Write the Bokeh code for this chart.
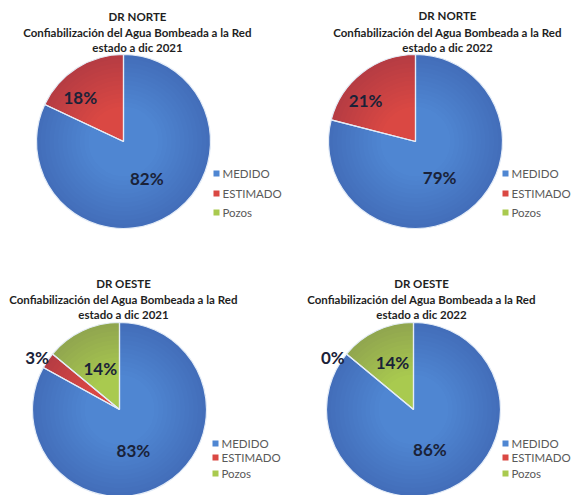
import math
from bokeh.plotting import figure
from bokeh.layouts import column, row
from bokeh.models import Range1d, ColumnDataSource
from bokeh.embed import file_html
from bokeh.resources import INLINE
from bokeh.core.properties import value

# ---------------- data ----------------
categories = ["MEDIDO", "ESTIMADO", "Pozos"]
regions = ["DR NORTE", "DR NORTE", "DR OESTE", "DR OESTE"]
subtitle = "Confiabilización del Agua Bombeada a la Red"
years = ["estado a dic 2021", "estado a dic 2022", "estado a dic 2021", "estado a dic 2022"]
norte_2021 = [82, 18, 0]
norte_2022 = [79, 21, 0]
oeste_2021 = [83, 3, 14]
oeste_2022 = [86, 0, 14]
show_label = [[True, True, False], [True, True, False], [True, True, True], [True, True, True]]

# ---------------- styles / layout ----------------
colors = ["#4F86D2", "#DA4843", "#A9CA4F"]
FONT = "Lato"
panels = [
    dict(vals=norte_2021, xr=(0, 290), yr=(0, 248), c=(123, 141), r=87, tx=137, tys=(16, 32, 47),
         lx=216, lys=(173, 193, 212), lab=[(0.50, 0), (0.71, 12), None]),
    dict(vals=norte_2022, xr=(290, 581), yr=(0, 248), c=(415, 141), r=87, tx=447, tys=(15, 32, 47),
         lx=505, lys=(173, 193, 212), lab=[(0.50, -4), (0.74, 13), None]),
    dict(vals=oeste_2021, xr=(0, 290), yr=(248, 495), c=(119, 409), r=87, tx=123, tys=(283, 299, 314),
         lx=215, lys=(443, 457, 473), lab=[(0.50, -12), (1.12, 2), (0.52, 0)]),
    dict(vals=oeste_2022, xr=(290, 581), yr=(248, 495), c=(413, 409), r=87, tx=421, tys=(283, 299, 314),
         lx=505, lys=(443, 457, 473), lab=[(0.50, -3), (1.10, 7), (0.59, -1)]),
]


def make_panel(i, cfg):
    x0, x1 = cfg["xr"]
    y0, y1 = cfg["yr"]
    p = figure(width=x1 - x0, height=y1 - y0, x_range=Range1d(x0, x1), y_range=Range1d(-y1, -y0),
               output_backend="svg", toolbar_location=None, x_axis_location=None, y_axis_location=None,
               min_border=0, outline_line_color=None, background_fill_color="white",
               border_fill_color="white")
    p.xgrid.visible = False
    p.ygrid.visible = False
    cx, cy = cfg["c"][0], -cfg["c"][1]
    r = cfg["r"]
    vals = cfg["vals"]
    total = float(sum(vals))
    cum = 0.0
    starts, ends, cols, mids = [], [], [], []
    for v, col in zip(vals, colors):
        a0 = cum / total
        cum += v
        a1 = cum / total
        starts.append(math.pi / 2 - 2 * math.pi * a0)
        ends.append(math.pi / 2 - 2 * math.pi * a1)
        mids.append(math.pi / 2 - 2 * math.pi * (a0 + a1) / 2)
        cols.append(col)
    keep = [k for k, v in enumerate(vals) if v > 0]
    src = ColumnDataSource(dict(start=[starts[k] for k in keep], end=[ends[k] for k in keep],
                                color=[cols[k] for k in keep]))
    p.wedge(x=cx, y=cy, radius=r, start_angle="start", end_angle="end", direction="clock",
            fill_color="color", line_color=None, source=src)
    # smooth radial shading to mimic the gradient look
    steps = 12
    for s in range(steps):
        inner = 0.40 + 0.60 * s / steps
        p.annular_wedge(x=cx, y=cy, inner_radius=r * inner, outer_radius=r, start_angle="start",
                        end_angle="end", direction="clock", fill_color="#0a1a40", fill_alpha=0.011,
                        line_color=None, source=src)
    p.wedge(x=cx, y=cy, radius=r, start_angle="start", end_angle="end", direction="clock",
            fill_color=None, line_color="#e4ecf7", line_width=1.2, source=src)

    # percentage labels
    lx, ly, lt = [], [], []
    for k, v in enumerate(vals):
        cfgl = cfg["lab"][k]
        if cfgl is None or not show_label[i][k]:
            continue
        f, off = cfgl
        ang = mids[k] + math.radians(off)
        lx.append(cx + f * r * math.cos(ang))
        ly.append(cy + f * r * math.sin(ang))
        lt.append(f"{v}%")
    p.text(x=lx, y=ly, text=lt, text_align="center", text_baseline="middle",
           text_font=value(FONT), text_font_style="bold", text_font_size="17px", text_color="#1a2238")

    # title
    ty = cfg["tys"]
    p.text(x=[cfg["tx"]] * 3, y=[-ty[0], -ty[1], -ty[2]], text=[regions[i], subtitle, years[i]],
           text_align="center", text_baseline="middle", text_font=value(FONT),
           text_font_style="bold", text_font_size="11.5px", text_color="#1f1f1f")

    # legend
    lys = cfg["lys"]
    p.rect(x=[cfg["lx"]] * 3, y=[-v for v in lys], width=6, height=6, fill_color=colors,
           line_color=None)
    p.text(x=[cfg["lx"] + 6] * 3, y=[-v for v in lys], text=categories, text_align="left",
           text_baseline="middle", text_font=value(FONT), text_font_size="11.5px", text_color="#595959")
    return p


figs = [make_panel(i, cfg) for i, cfg in enumerate(panels)]
layout = column(row(figs[0], figs[1], spacing=0), row(figs[2], figs[3], spacing=0), spacing=0)

open("out.html", "w").write(file_html(layout, INLINE))
